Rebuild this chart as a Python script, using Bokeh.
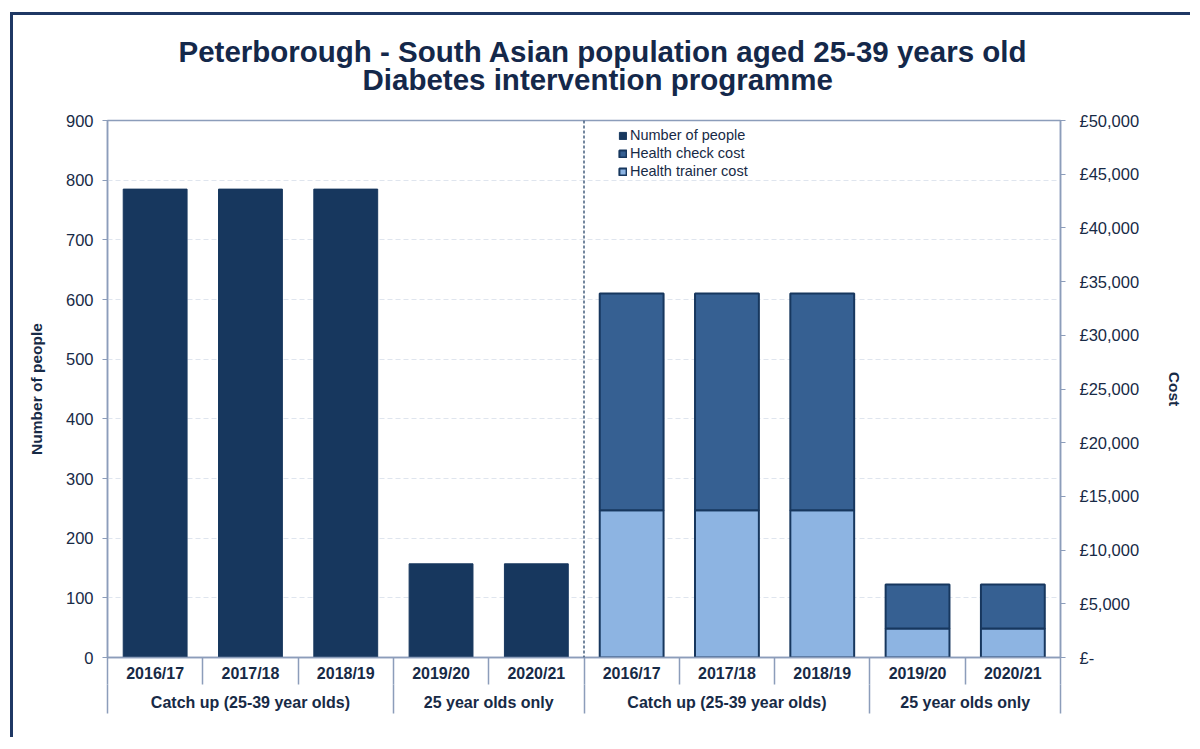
from bokeh.plotting import figure
from bokeh.models import (Range1d, LinearAxis, FixedTicker, Span, Legend, LegendItem,
                          ColumnDataSource, Grid, Title)
from bokeh.embed import file_html
from bokeh.resources import INLINE

# ---------------- data ----------------
title_lines = ["Peterborough - South Asian population aged 25-39 years old",
               "Diabetes intervention programme"]
years = ["2016/17", "2017/18", "2018/19", "2019/20", "2020/21"]
groups = ["Catch up (25-39 year olds)", "25 year olds only"]
year_group = [0, 0, 0, 1, 1]
people = [785, 785, 785, 157, 157]
trainer_cost = [13700, 13700, 13700, 2700, 2700]
check_cost = [20200, 20200, 20200, 4100, 4100]
left_ticks = [0, 100, 200, 300, 400, 500, 600, 700, 800, 900]
right_ticks = [0, 5000, 10000, 15000, 20000, 25000, 30000, 35000, 40000, 45000, 50000]

# ---------------- styles ----------------
FONT = "Liberation Sans"
TXT = "#172a46"
AX = "#8c9dba"
NAVY = "#17375e"
CHECK = "#366092"
TRAINER = "#8db4e2"

W, H = 1180, 725
ML, MR, MT, MB = 94, 133, 105, 83
FW, FH = W - ML - MR, H - MT - MB

n = len(years)
people_x = [i + 0.5 for i in range(n)]
cost_x = [n + i + 0.5 for i in range(n)]

p = figure(width=W, height=H, output_backend="svg", toolbar_location=None,
           x_range=Range1d(0, 2 * n), y_range=Range1d(left_ticks[0], left_ticks[-1]),
           x_axis_location=None, y_axis_location=None,
           min_border_left=ML, min_border_right=MR, min_border_top=MT, min_border_bottom=MB)
p.margin = (12, 0, 0, 10)
p.extra_y_ranges = {"cost": Range1d(right_ticks[0], right_ticks[-1])}
p.background_fill_color = "white"
p.border_fill_color = "white"
p.outline_line_color = AX
p.outline_line_width = 1.5
p.styles = {"border-left": "3px solid #1f3864", "border-top": "3px solid #1f3864"}
for g in p.grid:
    g.visible = False
p.title.text = ""
p.title.visible = False

# title lines (each one placed so it is centred over the whole chart)
for line, off, so in ((title_lines[1], 255, 50), (title_lines[0], 71, -64)):
    p.add_layout(Title(text=line, align="left", offset=off, standoff=so,
                       text_font=FONT, text_font_size="29.5px", text_font_style="bold",
                       text_color="#14284a"), "above")

# grid
p.add_layout(Grid(dimension=1, ticker=FixedTicker(ticks=left_ticks[1:-1]),
                  grid_line_color="#dfe5ee", grid_line_dash="5 3", grid_line_width=1))

# bars
src_people = ColumnDataSource(dict(x=people_x, people=people))
r_people = p.vbar(x="x", top="people", width=0.67, source=src_people,
                  fill_color=NAVY, line_color=NAVY, line_width=1)

src_cost = ColumnDataSource(dict(x=cost_x, trainer=trainer_cost, check=check_cost))
r_cost = p.vbar_stack(["trainer", "check"], x="x", width=0.67, source=src_cost,
                      fill_color=[TRAINER, CHECK], line_color=NAVY, line_width=2,
                      y_range_name="cost")

# divider
p.add_layout(Span(location=n, dimension="height", line_color=NAVY,
                  line_dash="3 2", line_width=1.2))

# left axis
yl = LinearAxis(ticker=FixedTicker(ticks=left_ticks), axis_label="Number of people")
# right axis
yr = LinearAxis(ticker=FixedTicker(ticks=right_ticks), y_range_name="cost", axis_label="Cost",
                major_label_overrides={v: ("£{:,}".format(v) if v else "£-") for v in right_ticks})
for ax, std in ((yl, 9), (yr, 14)):
    ax.axis_line_color = AX
    ax.axis_line_width = 1.5
    ax.major_tick_line_color = AX
    ax.major_tick_out = 5
    ax.major_tick_in = 0
    ax.minor_tick_line_color = None
    ax.major_label_text_font = FONT
    ax.major_label_text_font_size = "16.5px"
    ax.major_label_text_color = TXT
    ax.major_label_standoff = std
    ax.axis_label_text_font = FONT
    ax.axis_label_text_font_size = "15.5px"
    ax.axis_label_text_font_style = "bold"
    ax.axis_label_text_color = TXT
yl.axis_label_standoff = 18
yr.axis_label_standoff = 24
p.add_layout(yl, "left")
p.add_layout(yr, "right")

# bottom axes: years and groups
all_years = years + years
year_centers = [i + 0.5 for i in range(2 * n)]
year_bounds = [float(i) for i in range(2 * n + 1)]
xa = LinearAxis(ticker=FixedTicker(ticks=year_centers, minor_ticks=year_bounds),
                major_label_overrides={c: y for c, y in zip(year_centers, all_years)})

grp_centers, grp_labels, grp_bounds = [], [], [0.0]
for panel in range(2):
    start = panel * n
    for g in range(len(groups)):
        idx = [i for i in range(n) if year_group[i] == g]
        lo, hi = start + min(idx), start + max(idx) + 1
        grp_centers.append((lo + hi) / 2)
        grp_labels.append(groups[g])
        grp_bounds.append(float(hi))
xg = LinearAxis(ticker=FixedTicker(ticks=grp_centers, minor_ticks=grp_bounds),
                major_label_overrides={c: g for c, g in zip(grp_centers, grp_labels)})

for ax, tick_len, std in ((xa, 27, -20), (xg, 29, -20)):
    ax.major_tick_line_color = None
    ax.major_tick_out = 0
    ax.major_tick_in = 0
    ax.minor_tick_line_color = AX
    ax.minor_tick_line_width = 1.5
    ax.minor_tick_out = tick_len
    ax.minor_tick_in = 0
    ax.major_label_text_font = FONT
    ax.major_label_text_font_size = "16px"
    ax.major_label_text_font_style = "bold"
    ax.major_label_text_color = TXT
    ax.major_label_standoff = std
xa.axis_line_color = AX
xa.axis_line_width = 1.5
xg.axis_line_color = None
p.add_layout(xa, "below")
p.add_layout(xg, "below")

# legend
legend = Legend(items=[LegendItem(label="Number of people", renderers=[r_people]),
                       LegendItem(label="Health check cost", renderers=[r_cost[1]]),
                       LegendItem(label="Health trainer cost", renderers=[r_cost[0]])],
                location=(511, FH - 2 - 58), orientation="vertical",
                glyph_width=9, glyph_height=9, label_height=18, label_standoff=3,
                spacing=0, padding=2, margin=0,
                label_text_font=FONT, label_text_font_size="14.5px", label_text_color=TXT,
                border_line_color=None, background_fill_alpha=0)
p.add_layout(legend, "center")

open("out.html", "w").write(file_html(p, INLINE))
